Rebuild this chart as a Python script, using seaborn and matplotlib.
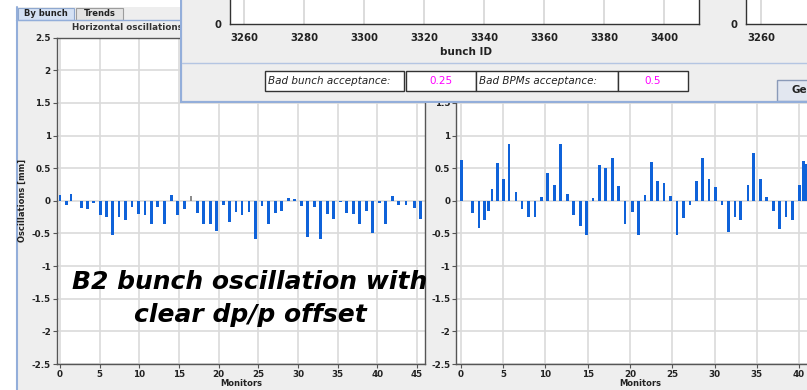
import numpy as np
import pandas as pd
import matplotlib
matplotlib.use("Agg")
import matplotlib.pyplot as plt
import seaborn as sns
from matplotlib.patches import Rectangle
from matplotlib.ticker import FuncFormatter

# ---------------- data ----------------
left_pos = [0.00, 0.84, 1.39, 2.74, 3.44, 4.25, 5.08, 5.89, 6.60, 7.44,
            8.23, 9.08, 9.87, 10.72, 11.51, 12.32, 13.15, 14.00, 14.84, 15.64,
            16.52, 17.31, 18.07, 18.92, 19.76, 20.59, 21.35, 22.19, 22.95, 23.83,
            24.63, 25.47, 26.27, 27.15, 27.91, 28.82, 29.57, 30.48, 31.15, 32.07,
            32.85, 33.73, 34.49, 35.31, 36.15, 36.97, 37.77, 38.61, 39.41, 40.29,
            41.02, 41.87, 42.65, 43.61, 44.64, 45.40]
left_val = [0.09, -0.06, 0.10, -0.11, -0.12, -0.03, -0.21, -0.25, -0.53, -0.24,
            -0.29, -0.09, -0.20, -0.21, -0.35, -0.10, -0.35, 0.09, -0.21, -0.13,
            0.08, -0.19, -0.36, -0.36, -0.46, -0.07, -0.33, -0.17, -0.21, -0.17,
            -0.59, -0.08, -0.35, -0.18, -0.15, 0.05, 0.03, -0.08, -0.56, -0.10,
            -0.58, -0.20, -0.28, -0.02, -0.18, -0.20, -0.35, -0.15, -0.49, -0.03,
            -0.36, 0.07, -0.06, -0.07, -0.11, -0.28]
left_state = ["ok"] * len(left_val)
left_state[20] = "bad"

right_pos = [0.08, 1.34, 2.13, 2.76, 3.23, 3.67, 4.34, 5.01, 5.68, 6.51,
             7.22, 8.01, 8.76, 9.55, 10.26, 11.04, 11.75, 12.58, 13.34, 14.12,
             14.83, 15.62, 16.37, 17.12, 17.93, 18.67, 19.41, 20.27, 21.03, 21.78,
             22.52, 23.28, 24.02, 24.82, 25.56, 26.36, 27.10, 27.85, 28.60, 29.35,
             30.09, 30.89, 31.63, 32.43, 33.10, 33.96, 34.64, 35.47, 36.13, 36.96,
             37.72, 38.46, 39.25, 40.04, 40.51, 40.91]
right_val = [0.62, -0.19, -0.42, -0.29, -0.16, 0.18, 0.58, 0.34, 0.87, 0.13,
             -0.13, -0.25, -0.25, 0.06, 0.43, 0.25, 0.87, 0.10, -0.22, -0.39,
             -0.52, 0.04, 0.55, 0.51, 0.66, 0.22, -0.35, -0.17, -0.53, 0.09,
             0.59, 0.30, 0.28, 0.08, -0.53, -0.27, -0.07, 0.31, 0.66, 0.33,
             0.21, -0.07, -0.48, -0.24, -0.29, 0.24, 0.74, 0.34, 0.06, -0.16,
             -0.43, -0.24, -0.30, 0.24, 0.61, 0.57]
right_state = ["ok"] * len(right_val)

y_ticks = [-2.5, -2, -1.5, -1, -0.5, 0, 0.5, 1, 1.5, 2, 2.5]
right_y_ticks = [-2.5, -2, -1.5, -1, -0.5, 0, 0.5, 1, 1.5]
left_xticks = [0, 5, 10, 15, 20, 25, 30, 35, 40, 45]
right_xticks = [0, 5, 10, 15, 20, 25, 30, 35, 40]
bunch_ticks = [3260, 3280, 3300, 3320, 3340, 3360, 3380, 3400]
bunch_ticks2 = [3260]

bad_bunch_acc = "0.25"
bad_bpm_acc = "0.5"

# ---------------- style ----------------
sns.set_style("white")
plt.rcParams["font.family"] = ["DejaVu Sans"]

W, H = 807, 390
fig = plt.figure(figsize=(W / 100, H / 100), dpi=100)
fig.patch.set_facecolor("white")


def frac(x0, y0, x1, y1):
    return [x0 / W, 1 - y1 / H, (x1 - x0) / W, (y1 - y0) / H]


BLUE_BORDER = "#93AEDA"
GRAY_BG = "#EEEEEE"
BAR = "#0F62D9"
pal = {"ok": BAR, "bad": "#8C8C8C"}

# background window chrome
bg = fig.add_axes([0, 0, 1, 1], zorder=-1)
bg.set_xlim(0, W)
bg.set_ylim(H, 0)
bg.axis("off")
bg.add_patch(Rectangle((16, 7), W - 16, H - 7, fc=GRAY_BG, ec="none"))
bg.plot([16.5, 16.5], [7, H], color=BLUE_BORDER, lw=1.5)
bg.plot([16, 180], [19.5, 19.5], color=BLUE_BORDER, lw=1)
bg.add_patch(Rectangle((18, 8), 56, 12, fc="#D4E1F4", ec="#8FA8CF", lw=0.8))
bg.text(46, 14, "By bunch", fontsize=6, fontweight="bold", ha="center", va="center", color="#222")
bg.add_patch(Rectangle((76, 8), 47, 11.5, fc="#E4E4E4", ec="#9C9C9C", lw=0.8))
bg.text(99.5, 14, "Trends", fontsize=6, fontweight="bold", ha="center", va="center", color="#222")

# data axes
ax1 = fig.add_axes(frac(57, 37.7, 425, 364), zorder=1)
ax2 = fig.add_axes(frac(456.5, 37.7, 840, 364), zorder=1)

df_l = pd.DataFrame({"pos": left_pos, "val": left_val, "state": left_state})
df_r = pd.DataFrame({"pos": right_pos, "val": right_val, "state": right_state})

for ax, df, bw in [(ax1, df_l, 0.36), (ax2, df_r, 0.34)]:
    mind = np.diff(np.sort(df["pos"].values)).min()
    sns.barplot(data=df, x="pos", y="val", hue="state", palette=pal,
                native_scale=True, dodge=False, width=bw / mind,
                errorbar=None, legend=False, saturation=1, linewidth=0, ax=ax)


def style(ax, xticks, yticks, xlim):
    ax.set_facecolor("white")
    ax.set_xlim(*xlim)
    ax.set_ylim(-2.5, 2.5)
    ax.set_yticks(yticks)
    ax.set_xticks(xticks)
    ax.yaxis.set_major_formatter(FuncFormatter(lambda v, p: f"{v:g}"))
    ax.xaxis.set_major_formatter(FuncFormatter(lambda v, p: f"{v:g}"))
    ax.grid(True, color="#DADADA", lw=1.2)
    ax.set_axisbelow(True)
    for s in ax.spines.values():
        s.set_color("#555555")
        s.set_linewidth(1)
    ax.tick_params(length=3, width=0.8, color="#555555", labelsize=6.3,
                   pad=1.5, labelcolor="#222222", left=True, bottom=True)
    for lbl in ax.get_xticklabels() + ax.get_yticklabels():
        lbl.set_fontweight("bold")
    ax.set_xlabel("Monitors", fontsize=6, fontweight="bold", color="#222")
    ax.set_ylabel("")


style(ax1, left_xticks, y_ticks, (-0.38, 46.01))
style(ax2, right_xticks, right_y_ticks, (-0.53, 44.85))
ax1.xaxis.set_label_coords(0.5, -0.045)
ax2.xaxis.set_label_coords((640 - 456.5) / 383.5, -0.045)
ax1.set_ylabel("Oscillations [mm]", fontsize=6, fontweight="bold", color="#222")
ax1.yaxis.set_label_coords((26.7 - 57) / 368, 0.5)

fig.text(72 / W, 1 - 27 / H, "Horizontal oscillations", fontsize=6.3,
         fontweight="bold", ha="left", va="center", color="#333", zorder=2)

# annotation
ann_kw = dict(ha="center", va="center", fontsize=18, fontweight="bold",
              fontstyle="italic", color="black", zorder=3)
fig.text(250 / W, 1 - 282 / H, "B2 bunch oscillation with", **ann_kw)
fig.text(250 / W, 1 - 315 / H, "clear dp/p offset", **ann_kw)

# overlay window
ov = fig.add_axes(frac(180, 0, W, 103), zorder=4)
ov.set_xlim(180, W)
ov.set_ylim(103, 0)
ov.axis("off")
ov.add_patch(Rectangle((180, 0), W - 180, 103, fc=GRAY_BG, ec="none"))
ov.plot([181, 181], [0, 102], color=BLUE_BORDER, lw=1.6)
ov.plot([180, W], [101.8, 101.8], color=BLUE_BORDER, lw=1.6)
ov.plot([182, W], [63.3, 63.3], color="#B4C5E2", lw=1)

fields = [(264.5, 139.5, "Bad bunch acceptance:", "#222", "italic", "left"),
          (405.5, 70, bad_bunch_acc, "#FF00FF", "normal", "center"),
          (476, 141.5, "Bad BPMs acceptance:", "#222", "italic", "left"),
          (618, 69.5, bad_bpm_acc, "#FF00FF", "normal", "center")]
for x0, w, txt, col, st, ha in fields:
    ov.add_patch(Rectangle((x0, 70.5), w, 20, fc="white", ec="#333333", lw=1))
    tx = x0 + 3 if ha == "left" else x0 + w / 2
    ov.text(tx, 80.8, txt, fontsize=7.5, fontstyle=st, color=col,
            ha=ha, va="center")
ov.add_patch(Rectangle((777, 79.5), 45, 21, fc="#E2E7F0", ec="#8A9AB8", lw=1))
ov.text(791, 90, "Ge", fontsize=7.5, fontweight="bold", ha="left", va="center", color="#222")

# overlay plots (bunch ID)
ax3 = fig.add_axes(frac(230, -60, 699, 24.3), zorder=5)
ax4 = fig.add_axes(frac(746, -60, 860, 24.3), zorder=5)
for ax, ticks, xl in [(ax3, bunch_ticks, (3255.2, 3411.6)),
                      (ax4, bunch_ticks2, (3255.0, 3293.0))]:
    ax.set_facecolor("white")
    ax.set_xlim(*xl)
    ax.set_ylim(0, 1)
    ax.set_yticks([0])
    ax.set_xticks(ticks)
    ax.xaxis.set_major_formatter(FuncFormatter(lambda v, p: f"{v:g}"))
    ax.grid(True, axis="x", color="#D5D5D5", lw=1.2)
    ax.set_axisbelow(True)
    for s in ax.spines.values():
        s.set_color("#333333")
        s.set_linewidth(1)
    ax.tick_params(length=3, width=0.8, color="#333", labelsize=7.3, pad=3,
                   labelcolor="#222")
    for lbl in ax.get_xticklabels() + ax.get_yticklabels():
        lbl.set_fontweight("bold")
ax3.set_xlabel("bunch ID", fontsize=7.5, fontweight="bold", color="#222")
ax3.xaxis.set_label_coords((465.5 - 230) / 469, (24.3 - 47) / 84.3)

fig.savefig("out.png", dpi=100)
